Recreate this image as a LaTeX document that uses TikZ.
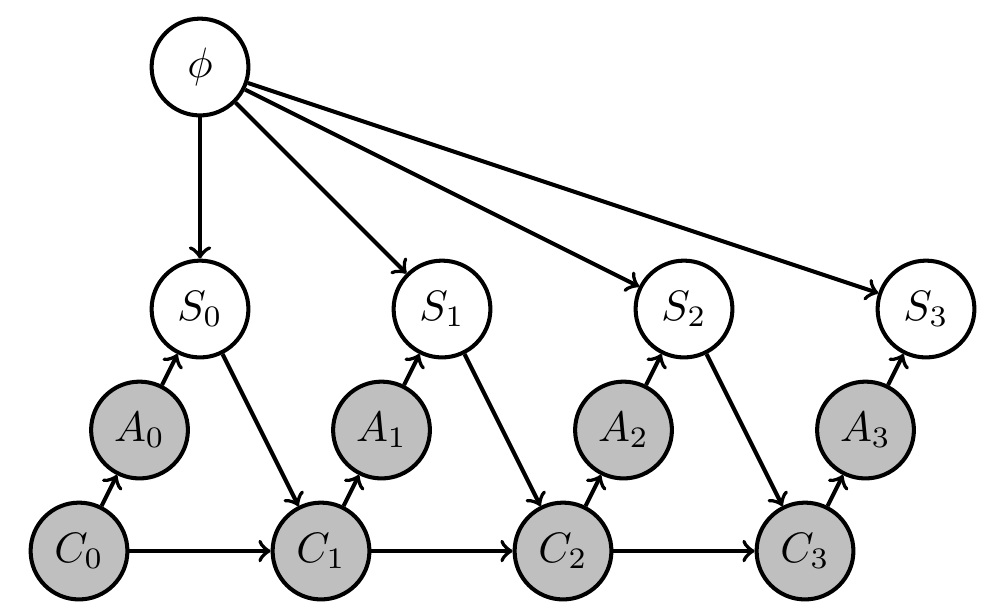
\documentclass[tikz,border=0pt]{standalone}
\begin{document}
\begin{tikzpicture}[
  every node/.style={circle, draw, line width=0.95pt, minimum size=0.8cm, inner sep=0pt},
  obs/.style={fill=lightgray},
  conn/.style={->, line width=0.95pt}
]
\useasboundingbox (-0.653,-0.52) rectangle (7.537,4.554);
\node (phi) at (1,4) {$\phi$};
\foreach \i in {0,1,2,3} {
  \node (S\i) at ({2*\i+1},2) {$S_\i$};
  \node[obs] (A\i) at ({2*\i+0.5},1) {$A_\i$};
  \node[obs] (C\i) at ({2*\i},0) {$C_\i$};
}
\foreach \i in {0,1,2,3} {
  \draw[conn] (phi) -- (S\i);
  \draw[conn] (C\i) -- (A\i);
  \draw[conn] (A\i) -- (S\i);
}
\foreach \i/\j in {0/1,1/2,2/3} {
  \draw[conn] (S\i) -- (C\j);
  \draw[conn] (C\i) -- (C\j);
}
\end{tikzpicture}
\end{document}
